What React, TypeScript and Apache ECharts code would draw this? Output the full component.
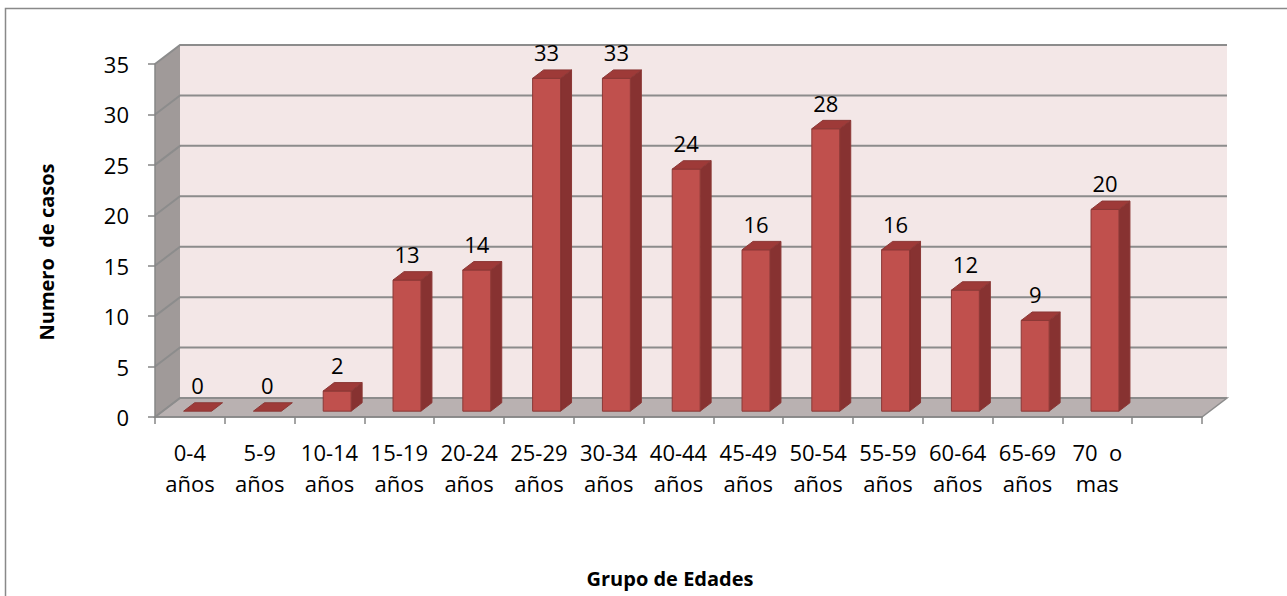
import React, { useEffect, useRef } from "react";
import * as echarts from "echarts";

const categories = [
  "0-4\naños", "5-9\naños", "10-14\naños", "15-19\naños", "20-24\naños",
  "25-29\naños", "30-34\naños", "40-44\naños", "45-49\naños", "50-54\naños",
  "55-59\naños", "60-64\naños", "65-69\naños", "70  o\nmas",
];
const cases = [0, 0, 2, 13, 14, 33, 33, 24, 16, 28, 16, 12, 9, 20];
const yMin = 0;
const yMax = 35;
const yStep = 5;
const xTitle = "Grupo de Edades";
const yTitle = "Numero  de casos";

const FONT = "'Open Sans', 'Liberation Sans', sans-serif";
const DX = 25;
const DY = 19;

export default function App() {
  const ref = useRef<HTMLDivElement>(null);
  useEffect(() => {
    if (!ref.current) return;
    const chart = echarts.init(ref.current, null, { renderer: "svg" });
    const axisData = [...categories, ""];

    const bgRender = (_params: any, api: any) => {
      const n = axisData.length;
      const bw = api.size([1, 0])[0];
      const left = api.coord([0, yMin])[0] - bw / 2;
      const right = api.coord([n - 1, yMin])[0] + bw / 2;
      const y0 = api.coord([0, yMin])[1];
      const yT = api.coord([0, yMax])[1];
      const children: any[] = [];
      children.push({
        type: "rect",
        shape: { x: left + DX, y: yT - DY, width: right - left, height: y0 - yT },
        style: { fill: "#f3e7e7" },
      });
      children.push({
        type: "polygon",
        shape: { points: [[left, yT], [left + DX, yT - DY], [left + DX, y0 - DY], [left, y0]] },
        style: { fill: "#a09a99" },
      });
      children.push({
        type: "polygon",
        shape: { points: [[left, y0], [left + DX, y0 - DY], [right + DX, y0 - DY], [right, y0]] },
        style: { fill: "#b9b1b1", stroke: "#8c8c8c", lineWidth: 1.5 },
      });
      for (let v = yMin; v <= yMax; v += yStep) {
        const y = api.coord([0, v])[1];
        children.push({
          type: "polyline",
          shape: { points: [[left, y], [left + DX, y - DY], [right + DX, y - DY]] },
          style: { stroke: "#8c8c8c", lineWidth: 2, fill: "none" },
        });
      }
      return { type: "group", children };
    };

    const barRender = (_params: any, api: any) => {
      const idx = api.value(0);
      const val = api.value(1);
      const bw = api.size([1, 0])[0];
      const [cx, cy0] = api.coord([idx, 0]);
      const cyv = api.coord([idx, val])[1];
      const off = bw * 0.11;
      const offY = -off * 0.76;
      const fw = bw * 0.4;
      const dx1 = 11;
      const dy1 = -8.4;
      const fl = cx + off - fw / 2;
      const fr = fl + fw;
      const yTop = cyv + offY;
      const yBot = cy0 + offY;
      const children: any[] = [];
      const stroke = "#8b3836";
      if (val > 0) {
        children.push({
          type: "polygon",
          shape: { points: [[fr, yTop], [fr + dx1, yTop + dy1], [fr + dx1, yBot + dy1], [fr, yBot]] },
          style: { fill: "#873231", stroke, lineWidth: 1 },
        });
        children.push({
          type: "rect",
          shape: { x: fl, y: yTop, width: fw, height: yBot - yTop },
          style: { fill: "#c0504d", stroke, lineWidth: 1 },
        });
      }
      children.push({
        type: "polygon",
        shape: { points: [[fl, yTop], [fl + dx1, yTop + dy1], [fr + dx1, yTop + dy1], [fr, yTop]] },
        style: { fill: "#9e3a38", stroke, lineWidth: 1 },
      });
      children.push({
        type: "text",
        x: cx + off,
        y: yTop - 15,
        style: {
          text: String(val),
          align: "center",
          verticalAlign: "bottom",
          fontSize: 22,
          fontFamily: FONT,
          fill: "#000",
        },
      });
      return { type: "group", children };
    };

    chart.setOption({
      animation: false,
      grid: { left: 155, right: 85, top: 64, bottom: 179, containLabel: false },
      xAxis: {
        type: "category",
        data: axisData,
        boundaryGap: true,
        z: 5,
        axisLine: { show: true, lineStyle: { color: "#868686", width: 1.5 } },
        axisTick: { show: true, length: 7, interval: 0, lineStyle: { color: "#868686", width: 1.5 } },
        axisLabel: {
          interval: 0,
          fontSize: 22,
          fontFamily: FONT,
          color: "#000",
          lineHeight: 31,
          margin: 19,
        },
        splitLine: { show: false },
      },
      yAxis: {
        type: "value",
        min: yMin,
        max: yMax,
        interval: yStep,
        z: 5,
        axisLine: { show: true, lineStyle: { color: "#868686", width: 1.5 } },
        axisTick: { show: true, length: 7, lineStyle: { color: "#868686", width: 1.5 } },
        axisLabel: { fontSize: 22, fontFamily: FONT, color: "#000", margin: 26 },
        splitLine: { show: false },
      },
      graphic: [
        {
          type: "rect",
          silent: true,
          z: -10,
          shape: { x: 5.5, y: 8.5, width: 1400, height: 800 },
          style: { fill: "none", stroke: "#898989", lineWidth: 1.5 },
        },
        {
          type: "text",
          x: 46,
          y: 252,
          rotation: Math.PI / 2,
          style: {
            text: yTitle,
            align: "center",
            verticalAlign: "middle",
            fontSize: 20,
            fontWeight: "bold",
            fontFamily: FONT,
            fill: "#000",
          },
        },
        {
          type: "text",
          x: 670,
          y: 578,
          style: {
            text: xTitle,
            align: "center",
            verticalAlign: "middle",
            fontSize: 20,
            fontWeight: "bold",
            fontFamily: FONT,
            fill: "#000",
          },
        },
      ],
      series: [
        {
          type: "custom",
          silent: true,
          z: 1,
          renderItem: bgRender,
          data: [[0, 0]],
        },
        {
          type: "custom",
          silent: true,
          z: 3,
          renderItem: barRender,
          data: cases.map((v, i) => [i, v]),
        },
      ],
    });
    return () => chart.dispose();
  }, []);
  return (
    <div
      ref={ref}
      style={{ position: "absolute", left: 0, top: 0, width: 1287, height: 596, background: "#fff" }}
    />
  );
}
